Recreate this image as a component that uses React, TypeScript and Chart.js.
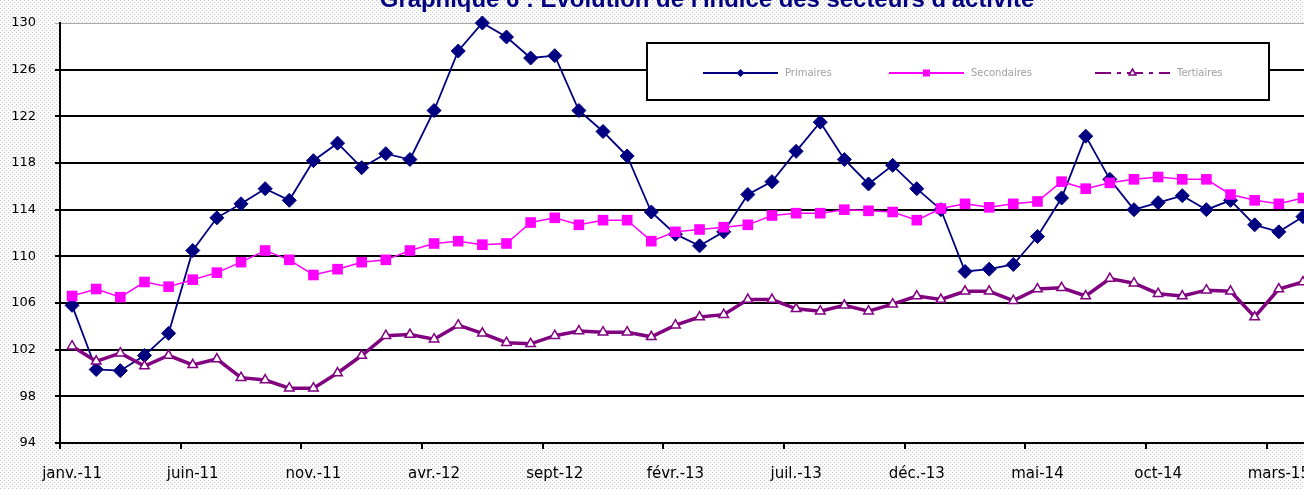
import React, { useEffect, useRef } from 'react';
import { Chart, registerables } from 'chart.js';

Chart.register(...registerables);

const months: string[] = [
  'janv.-11', 'févr.-11', 'mars-11', 'avr.-11', 'mai-11', 'juin-11', 'juil.-11', 'août-11', 'sept-11', 'oct-11', 'nov.-11', 'déc.-11',
  'janv.-12', 'févr.-12', 'mars-12', 'avr.-12', 'mai-12', 'juin-12', 'juil.-12', 'août-12', 'sept-12', 'oct-12', 'nov.-12', 'déc.-12',
  'janv.-13', 'févr.-13', 'mars-13', 'avr.-13', 'mai-13', 'juin-13', 'juil.-13', 'août-13', 'sept-13', 'oct-13', 'nov.-13', 'déc.-13',
  'janv.-14', 'févr.-14', 'mars-14', 'avr.-14', 'mai-14', 'juin-14', 'juil.-14', 'août-14', 'sept-14', 'oct-14', 'nov.-14', 'déc.-14',
  'janv.-15', 'févr.-15', 'mars-15', 'avr.-15',
];

const primaires: number[] = [
  105.8, 100.3, 100.2, 101.5, 103.4, 110.5, 113.3, 114.5, 115.8, 114.8,
  118.2, 119.7, 117.6, 118.8, 118.3, 122.5, 127.6, 130.0, 128.8, 127.0,
  127.2, 122.5, 120.7, 118.6, 113.8, 111.9, 110.9, 112.1, 115.3, 116.4,
  119.0, 121.5, 118.3, 116.2, 117.8, 115.8, 114.0, 108.7, 108.9, 109.3,
  111.7, 115.0, 120.3, 116.6, 114.0, 114.6, 115.2, 114.0, 114.8, 112.7,
  112.1, 113.4,
];

const secondaires: number[] = [
  106.6, 107.2, 106.5, 107.8, 107.4, 108.0, 108.6, 109.5, 110.5, 109.7,
  108.4, 108.9, 109.5, 109.7, 110.5, 111.1, 111.3, 111.0, 111.1, 112.9,
  113.3, 112.7, 113.1, 113.1, 111.3, 112.1, 112.3, 112.5, 112.7, 113.5,
  113.7, 113.7, 114.0, 113.9, 113.8, 113.1, 114.1, 114.5, 114.2, 114.5,
  114.7, 116.4, 115.8, 116.3, 116.6, 116.8, 116.6, 116.6, 115.3, 114.8,
  114.5, 115.0,
];

const tertiaires: number[] = [
  102.3, 101.0, 101.7, 100.6, 101.5, 100.7, 101.2, 99.6, 99.4, 98.7,
  98.7, 100.0, 101.5, 103.2, 103.3, 102.9, 104.1, 103.4, 102.6, 102.5,
  103.2, 103.6, 103.5, 103.5, 103.1, 104.1, 104.8, 105.0, 106.3, 106.3,
  105.5, 105.3, 105.8, 105.3, 105.9, 106.6, 106.3, 107.0, 107.0, 106.2,
  107.2, 107.3, 106.6, 108.1, 107.7, 106.8, 106.6, 107.1, 107.0, 104.8,
  107.2, 107.8,
];

const seriesNames: string[] = ['Primaires', 'Secondaires', 'Tertiaires'];
const titleText = "Graphique 6 : Evolution de l'indice des secteurs d'activité";
const yMin = 94;
const yMax = 130;
const yStep = 4;
const labelEvery = 5;

// layout
const CANVAS_W = 1340;
const CANVAS_H = 489;
const PLOT_LEFT = 60;
const PLOT_TOP = 23;
const PLOT_RIGHT = 1315;
const PLOT_BOTTOM = 443;

const NAVY = '#000080';
const MAGENTA = '#ff00ff';
const PURPLE = '#800080';

const bgPlugin = {
  id: 'bgPattern',
  beforeDraw(chart: any) {
    const { ctx, chartArea, width, height } = chart;
    const tile = document.createElement('canvas');
    tile.width = 4;
    tile.height = 4;
    const t = tile.getContext('2d')!;
    t.fillStyle = '#fbfbfb';
    t.fillRect(0, 0, 4, 4);
    t.fillStyle = '#c6c6c6';
    t.fillRect(0, 0, 1, 1);
    t.fillRect(2, 2, 1, 1);
    const pat = ctx.createPattern(tile, 'repeat');
    ctx.save();
    ctx.fillStyle = pat;
    ctx.fillRect(0, 0, width, height);
    ctx.fillStyle = '#ffffff';
    ctx.fillRect(chartArea.left, chartArea.top, chartArea.right - chartArea.left, chartArea.bottom - chartArea.top);
    ctx.restore();
  },
};

function drawMarker(ctx: CanvasRenderingContext2D, kind: string, x: number, y: number) {
  ctx.beginPath();
  if (kind === 'diamond') {
    const r = 4;
    ctx.moveTo(x, y - r);
    ctx.lineTo(x + r, y);
    ctx.lineTo(x, y + r);
    ctx.lineTo(x - r, y);
    ctx.closePath();
    ctx.fillStyle = NAVY;
    ctx.fill();
  } else if (kind === 'square') {
    ctx.fillStyle = MAGENTA;
    ctx.fillRect(x - 3.5, y - 3.5, 7, 7);
  } else {
    const r = 4;
    ctx.moveTo(x, y - r);
    ctx.lineTo(x + r * 0.87, y + r / 2);
    ctx.lineTo(x - r * 0.87, y + r / 2);
    ctx.closePath();
    ctx.fillStyle = '#ffffff';
    ctx.fill();
    ctx.setLineDash([]);
    ctx.lineWidth = 1.5;
    ctx.strokeStyle = PURPLE;
    ctx.stroke();
  }
}

const overlayPlugin = {
  id: 'overlay',
  afterDraw(chart: any) {
    const ctx: CanvasRenderingContext2D = chart.ctx;
    ctx.save();
    // Title (partly cut by the top edge)
    const fam = '"Liberation Sans", Arial, sans-serif';
    let size = 18;
    ctx.font = `bold ${size}px ${fam}`;
    const w = ctx.measureText(titleText).width;
    size = (size * 655) / w;
    ctx.font = `bold ${size}px ${fam}`;
    ctx.fillStyle = NAVY;
    ctx.textAlign = 'center';
    ctx.textBaseline = 'alphabetic';
    ctx.fillText(titleText, 707, 7);

    // Legend box
    const bx = 647, by = 43, bw = 622, bh = 57;
    ctx.fillStyle = '#ffffff';
    ctx.fillRect(bx, by, bw, bh);
    ctx.lineWidth = 2;
    ctx.strokeStyle = '#000000';
    ctx.strokeRect(bx, by, bw, bh);

    const ly = 73;
    const items = [
      { name: seriesNames[0], color: NAVY, x0: 703, x1: 778, tx: 785, marker: 'diamond', dash: [] as number[] },
      { name: seriesNames[1], color: MAGENTA, x0: 889, x1: 964, tx: 971, marker: 'square', dash: [] as number[] },
      { name: seriesNames[2], color: PURPLE, x0: 1095, x1: 1170, tx: 1177, marker: 'triangle', dash: [16, 6, 4, 6] },
    ];
    items.forEach((it) => {
      ctx.beginPath();
      ctx.setLineDash(it.dash);
      ctx.lineWidth = 2;
      ctx.strokeStyle = it.color;
      ctx.moveTo(it.x0, ly);
      ctx.lineTo(it.x1, ly);
      ctx.stroke();
      ctx.setLineDash([]);
      drawMarker(ctx, it.marker, (it.x0 + it.x1) / 2, ly);
      ctx.font = '10px "DejaVu Sans", sans-serif';
      ctx.fillStyle = '#a0a0a0';
      ctx.textAlign = 'left';
      ctx.textBaseline = 'middle';
      ctx.fillText(it.name, it.tx, ly);
    });
    ctx.restore();
  },
};

export default function App() {
  const ref = useRef<HTMLCanvasElement>(null);

  useEffect(() => {
    const canvas = ref.current;
    if (!canvas) return;
    const chart = new Chart(canvas, {
      type: 'line',
      data: {
        labels: months,
        datasets: [
          {
            label: seriesNames[0],
            data: primaires,
            borderColor: NAVY,
            backgroundColor: NAVY,
            borderWidth: 1.8,
            pointStyle: 'rectRot',
            pointRadius: 7,
            pointBackgroundColor: NAVY,
            pointBorderColor: NAVY,
            pointBorderWidth: 1,
            tension: 0,
            clip: false,
            order: 2,
          } as any,
          {
            label: seriesNames[1],
            data: secondaires,
            borderColor: MAGENTA,
            backgroundColor: MAGENTA,
            borderWidth: 1.5,
            pointStyle: 'rect',
            pointRadius: 7.5,
            pointBackgroundColor: MAGENTA,
            pointBorderColor: MAGENTA,
            pointBorderWidth: 0,
            tension: 0,
            clip: false,
            order: 1,
          } as any,
          {
            label: seriesNames[2],
            data: tertiaires,
            borderColor: PURPLE,
            backgroundColor: '#ffffff',
            borderWidth: 3.5,
            pointStyle: 'triangle',
            pointRadius: 5.5,
            pointBackgroundColor: '#ffffff',
            pointBorderColor: PURPLE,
            pointBorderWidth: 1.5,
            tension: 0,
            clip: false,
            order: 0,
          } as any,
        ],
      },
      options: {
        responsive: false,
        animation: false,
        devicePixelRatio: 1,
        events: [],
        layout: {
          padding: { left: 0, top: PLOT_TOP, right: CANVAS_W - PLOT_RIGHT, bottom: 0 },
        },
        plugins: {
          legend: { display: false },
          tooltip: { enabled: false },
          title: { display: false },
        },
        scales: {
          x: {
            type: 'category',
            offset: true,
            grid: {
              offset: true,
              drawOnChartArea: false,
              drawTicks: true,
              tickLength: 6,
              lineWidth: 2,
              color: (c: any) => (c.index % labelEvery === 0 ? '#000000' : 'rgba(0,0,0,0)'),
            },
            border: { display: true, color: '#000000', width: 2 },
            ticks: {
              autoSkip: false,
              maxRotation: 0,
              minRotation: 0,
              padding: 16,
              color: '#000000',
              font: { family: '"DejaVu Sans", sans-serif', size: 15 },
              callback: (_v: any, index: number) => (index % labelEvery === 0 ? months[index] : ''),
            },
            afterFit: (s: any) => {
              s.height = CANVAS_H - PLOT_BOTTOM;
              s.paddingLeft = 0;
              s.paddingRight = 0;
            },
          },
          y: {
            min: yMin,
            max: yMax,
            ticks: {
              stepSize: yStep,
              padding: 19,
              color: '#000000',
              font: { family: '"DejaVu Sans", sans-serif', size: 13 },
            },
            grid: {
              tickLength: 5,
              color: (c: any) => (c.tick && c.tick.value === yMax ? '#a8a8a8' : '#000000'),
              lineWidth: (c: any) => (c.tick && c.tick.value === yMax ? 1 : 2),
            },
            border: { display: true, color: '#000000', width: 2 },
            afterFit: (s: any) => {
              s.width = PLOT_LEFT;
              s.paddingTop = 0;
              s.paddingBottom = 0;
            },
          },
        },
      } as any,
      plugins: [bgPlugin, overlayPlugin],
    });
    return () => chart.destroy();
  }, []);

  return (
    <div
      style={{
        position: 'fixed',
        left: 0,
        top: 0,
        width: 1304,
        height: 489,
        overflow: 'hidden',
        background: '#ffffff',
      }}
    >
      <canvas
        ref={ref}
        width={CANVAS_W}
        height={CANVAS_H}
        style={{ display: 'block', width: CANVAS_W, height: CANVAS_H }}
      />
    </div>
  );
}
